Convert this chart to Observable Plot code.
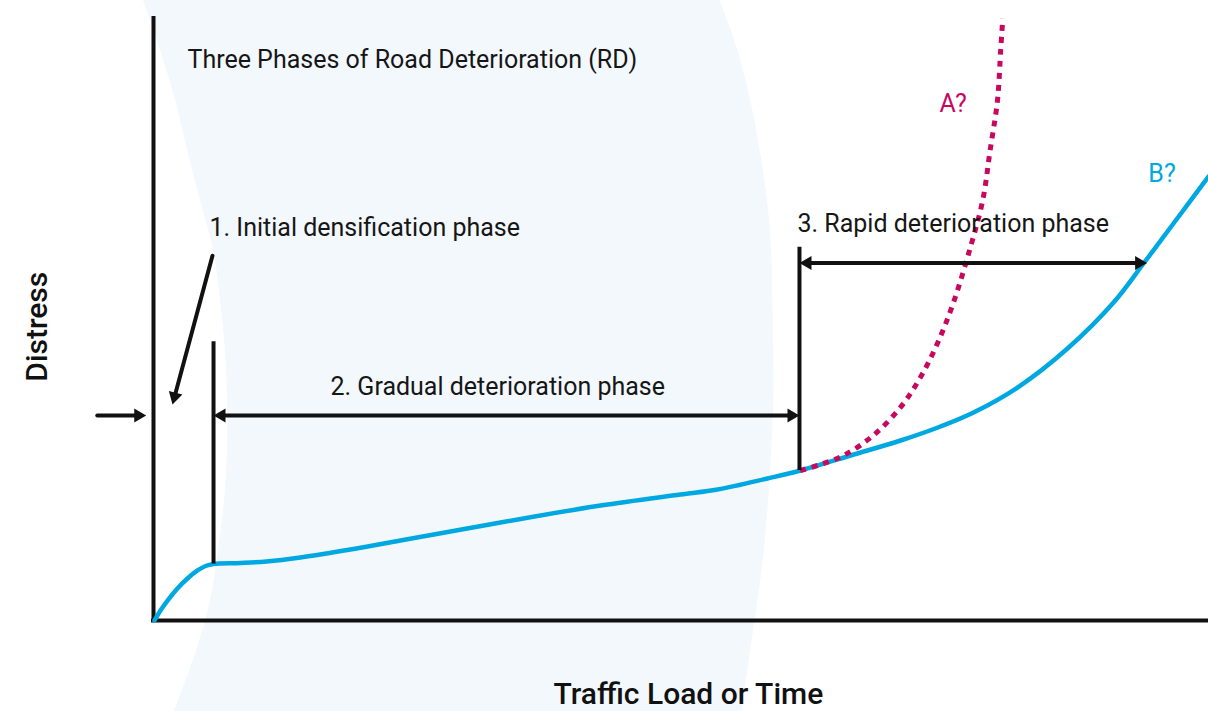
<!DOCTYPE html>
<html>
<head>
<meta charset="utf-8">
<script src="https://cdn.jsdelivr.net/npm/d3@7"></script>
<script src="https://cdn.jsdelivr.net/npm/@observablehq/plot@0.6"></script>
<style>
  html, body { margin: 0; padding: 0; background: #fff; }
  #chart svg { display: block; }
</style>
</head>
<body>
<div id="chart"></div>
<script>
// ---- Data (load / time on x, distress on y; both in relative units 0–100) ----

// Curve B: typical deterioration curve
const loadB     = [0.09, 0.66, 1.33, 2.27, 3.22, 4.17, 4.93, 5.69, 8.25, 10.71, 13.93, 18.67, 23.41, 32.89, 42.37, 49.95, 53.46, 58.20, 61.33, 66.07, 70.81, 74.60, 77.73, 81.90, 86.64, 91.00, 93.84, 96.68, 100];
const distressB = [0,    1.66, 3.32, 5.32, 6.98, 8.31, 9.05, 9.39, 9.55, 9.80,  10.47, 11.79, 13.29, 16.28, 19.10, 20.93, 21.76, 23.59, 24.92, 27.41, 29.90, 32.23, 34.55, 38.70, 45.18, 52.82, 59.30, 65.95, 73.75];

// Curve A: possible accelerated deterioration
const loadA     = [61.3, 63.2, 65.4, 68.2, 70.8, 72.7, 74.3, 75.8, 77.4, 78.6, 79.3, 80.0, 80.3, 80.5];
const distressA = [24.9, 25.9, 27.4, 30.7, 35.4, 40.4, 46.0, 52.7, 61.8, 69.8, 78.1, 86.4, 94.7, 100];

// Phase boundaries (load at which a phase starts, distress range of the marker)
const phaseLoad       = [5.69, 61.23];
const phaseDistressLo = [9.39, 24.9];
const phaseDistressHi = [46.3, 62.0];

// Phase spans (double-headed arrows)
const spanStart    = [5.69, 61.23];
const spanEnd      = [61.23, 94.18];
const spanDistress = [34.05, 59.4];

// Single pointer arrows: [start load, start distress] -> [end load, end distress]
const pointerFromLoad     = [-5.33, 5.59];
const pointerFromDistress = [34.05, 60.6];
const pointerToLoad       = [-0.69, 1.80];
const pointerToDistress   = [34.05, 35.9];

// Background band (decorative arc): distress level and its left / right load edge
const bandDistress = [103.0, 94.7, 86.4, 78.1, 69.8, 61.5, 53.2, 44.9, 36.5, 28.2, 19.9, 11.6, 3.3, -5.0, -15.1];
const bandLeft     = [-0.95, 0.66, 2.09, 3.22, 4.45, 5.69, 6.35, 6.82, 7.01, 7.01, 6.73, 6.16, 5.40, 4.08, 1.99];
const bandRight    = [53.7, 55.4, 56.6, 57.5, 58.2, 58.6, 58.7, 58.8, 58.8, 58.6, 58.3, 57.9, 57.3, 56.6, 55.8];

// Text labels and their anchor points (data units)
const labelText = ["Three Phases of Road Deterioration (RD)", "1. Initial densification phase", "2. Gradual deterioration phase", "3. Rapid deterioration phase"];
const labelLoad = [3.22, 5.31, 16.78, 61.04];
const labelDistress = [91.7, 63.8, 37.4, 64.6];

const seriesNames = ["A?", "B?"];
const seriesLabelLoad = [74.5, 94.3];
const seriesLabelDistress = [84.4, 72.9];

const xTitle = "Traffic Load or Time";
const yTitle = "Distress";

// ---- Build ----
const BLUE = "#00A8E1";
const MAGENTA = "#C8085F";
const BAND = "#F3F8FD";
const INK = "#111";

const idx = n => d3.range(n);
const band = idx(bandDistress.length).map(i => ({y: bandDistress[i], x1: bandLeft[i], x2: bandRight[i]}));
const curveB = idx(loadB.length).map(i => ({x: loadB[i], y: distressB[i]}));
const curveA = idx(loadA.length).map(i => ({x: loadA[i], y: distressA[i]}));
const markers = idx(phaseLoad.length).map(i => ({x: phaseLoad[i], y1: phaseDistressLo[i], y2: phaseDistressHi[i]}));
const spans = idx(spanStart.length).map(i => ({x1: spanStart[i], x2: spanEnd[i], y: spanDistress[i]}));
const pointers = idx(pointerFromLoad.length).map(i => ({x1: pointerFromLoad[i], y1: pointerFromDistress[i], x2: pointerToLoad[i], y2: pointerToDistress[i]}));
const shafts = [
  ...spans.map(s => ({x1: s.x1, y1: s.y, x2: s.x2, y2: s.y, both: true})),
  ...pointers.map(p => ({...p, both: false}))
];

// Arrow heads: tips at the span ends and pointer ends
const heads = [
  ...spans.flatMap(s => [{x: s.x1, y: s.y, dir: "left"}, {x: s.x2, y: s.y, dir: "right"}]),
  ...pointers.map(p => ({x: p.x2, y: p.y2, dir: "pointer", from: p}))
];

// custom symbol: triangle with its tip at the origin, pointing up
const headSymbol = {
  draw(ctx) {
    ctx.moveTo(0, 0);
    ctx.lineTo(-7, 12);
    ctx.lineTo(7, 12);
    ctx.closePath();
  }
};

const W = 1208, H = 711;
const mL = 153, mR = 0, mT = 18, mB = 91;
const pxPerX = (W - mL - mR) / 100, pxPerY = (H - mT - mB) / 100;
function headRotation(h) {
  if (h.dir === "left") return -90;
  if (h.dir === "right") return 90;
  const dx = (h.x - h.from.x1) * pxPerX;
  const dy = -(h.y - h.from.y1) * pxPerY;
  return Math.atan2(dx, -dy) * 180 / Math.PI;
}

const labels = idx(labelText.length).map(i => ({text: labelText[i], x: labelLoad[i], y: labelDistress[i]}));
const seriesLabels = idx(seriesNames.length).map(i => ({text: seriesNames[i], x: seriesLabelLoad[i], y: seriesLabelDistress[i], color: i === 0 ? MAGENTA : BLUE}));

const chart = Plot.plot({
  width: W,
  height: H,
  marginLeft: mL,
  marginRight: mR,
  marginTop: mT,
  marginBottom: mB,
  x: {domain: [0, 100], axis: null},
  y: {domain: [0, 100], axis: null},
  style: {fontFamily: "Roboto, 'Open Sans', sans-serif", background: "#fff", overflow: "visible"},
  marks: [
    Plot.areaX(band, {y: "y", x1: "x1", x2: "x2", fill: BAND, curve: "catmull-rom"}),
    Plot.ruleX([0], {stroke: INK, strokeWidth: 4, strokeLinecap: "square"}),
    Plot.ruleY([0], {stroke: INK, strokeWidth: 4, strokeLinecap: "square"}),
    Plot.line(curveB, {x: "x", y: "y", stroke: BLUE, strokeWidth: 4.5, curve: "catmull-rom"}),
    Plot.line(curveA, {x: "x", y: "y", stroke: MAGENTA, strokeWidth: 5, strokeDasharray: "6,6", strokeLinecap: "butt", curve: "catmull-rom"}),
    Plot.ruleX(markers, {x: "x", y1: "y1", y2: "y2", stroke: INK, strokeWidth: 4}),
    Plot.arrow(shafts.filter(d => d.both), {x1: "x1", y1: "y1", x2: "x2", y2: "y2", stroke: INK, strokeWidth: 4, headLength: 0, insetStart: 9, insetEnd: 9}),
    Plot.arrow(shafts.filter(d => !d.both), {x1: "x1", y1: "y1", x2: "x2", y2: "y2", stroke: INK, strokeWidth: 4, headLength: 0, insetEnd: 9}),
    Plot.dot(heads, {x: "x", y: "y", symbol: headSymbol, r: 6, fill: INK, stroke: null, rotate: d => headRotation(d)}),
    Plot.text(labels, {x: "x", y: "y", text: "text", textAnchor: "start", lineAnchor: "bottom", fontSize: 25, fill: "#161616"}),
    Plot.text(seriesLabels, {x: "x", y: "y", text: "text", textAnchor: "start", lineAnchor: "bottom", fontSize: 25, fill: d => d.color}),
    Plot.text([yTitle], {x: -11.0, y: 48.8, text: d => d, rotate: -90, textAnchor: "middle", lineAnchor: "middle", fontSize: 30, fontWeight: 500, fill: INK}),
    Plot.text([xTitle], {x: 50.7, y: -13.95, text: d => d, textAnchor: "middle", lineAnchor: "bottom", fontSize: 30, fontWeight: 500, fill: INK})
  ]
});

document.getElementById("chart").appendChild(chart);
</script>
</body>
</html>
